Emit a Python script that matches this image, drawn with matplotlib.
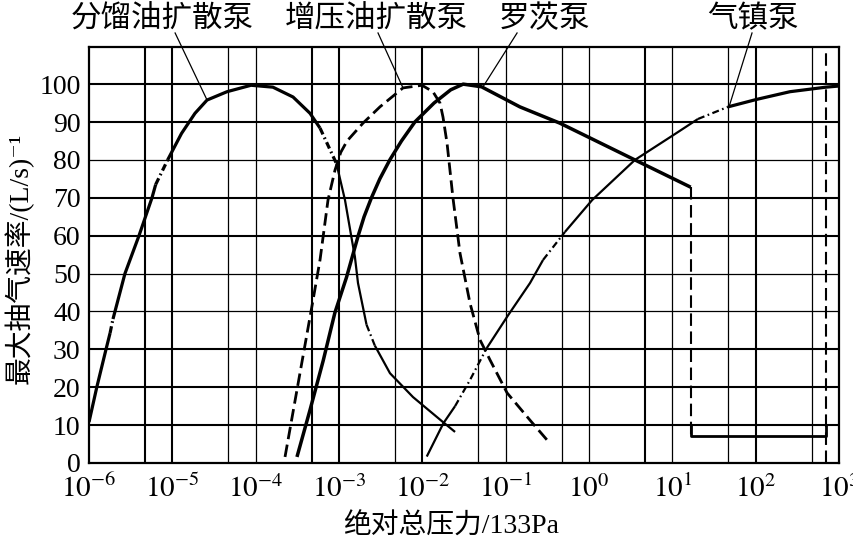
import numpy as np
import matplotlib
matplotlib.use('Agg')
import matplotlib.pyplot as plt

plt.rcParams['font.family'] = ['Liberation Serif', 'Noto Sans CJK SC', 'DejaVu Serif']
plt.rcParams['mathtext.fontset'] = 'stix'
plt.rcParams['lines.scale_dashes'] = False

# 分馏油扩散泵
frac_p = [1.0e-6, 1.24e-6, 1.60e-6, 1.79e-6, 1.94e-6, 2.05e-6, 2.70e-6, 3.98e-6, 5.70e-6, 6.31e-6,
          8.79e-6, 1.29e-5, 1.87e-5, 2.61e-5, 4.53e-5, 8.79e-5, 1.61e-4, 2.81e-4, 4.49e-4, 5.92e-4,
          9.33e-4, 1.18e-3, 1.43e-3, 1.55e-3, 1.69e-3, 2.14e-3, 2.69e-3, 4.09e-3, 7.73e-3, 1.77e-2,
          2.47e-2]
frac_s = [10.8, 20, 30, 34.3, 38, 40, 50, 60, 70, 73.5,
          80, 87, 92.3, 95.8, 98, 99.7, 99.2, 96.6, 92.3, 88.4,
          79, 69.4, 58.8, 54.5, 47.5, 36.5, 31, 23.7, 17.4, 10.8,
          8.2]
frac_codes = "SSSDSSSSSDSSSSSSSSSDsssssdssss"

# 增压油扩散泵
boost_p = [2.25e-4, 3.40e-4, 4.88e-4, 5.92e-4, 7.38e-4, 8.95e-4, 1.05e-3, 1.25e-3, 1.94e-3, 3.10e-3,
           5.86e-3, 9.91e-3, 1.34e-2, 1.63e-2, 1.77e-2, 1.98e-2, 2.33e-2, 2.83e-2, 3.73e-2, 4.92e-2,
           6.49e-2, 0.104, 0.196, 0.313]
boost_s = [1.6, 23.7, 43, 53.6, 69.4, 77.3, 82, 85, 89.7, 94,
           99, 99.7, 98, 95, 91.3, 84.4, 70, 55.4, 42.2, 32.5,
           27.2, 18.5, 11.3, 6.1]

# 罗茨泵
roots_p = [3.13e-4, 4.49e-4, 6.46e-4, 8.91e-4, 1.23e-3, 1.70e-3, 2.00e-3, 2.45e-3, 3.09e-3, 4.07e-3,
           5.62e-3, 8.13e-3, 1.38e-2, 2.19e-2, 3.09e-2, 5.13e-2, 0.148, 0.447, 3.55, 16.6]
roots_s = [1.6, 14, 27, 39.6, 49, 60, 65, 70, 75, 80,
           85, 90, 95, 98.5, 100, 99.3, 94, 89.7, 80, 72.8]
roots_drop_s = [72.8, 7.2]
roots_box_p = [16.6, 16.6, 692, 692]
roots_box_s = [10, 7.2, 7.2, 10]

# 气镇泵
ballast_p = [1.13e-2, 1.79e-2, 2.47e-2, 3.73e-2, 5.92e-2, 0.107, 0.196, 0.281, 0.515, 1.09,
             3.56, 10.2, 20.3, 46.6, 104, 258, 698, 1000]
ballast_s = [1.7, 10.5, 15, 21.9, 30.3, 39, 47.5, 53.6, 61, 69.4,
             80, 86.5, 90.8, 94, 96, 98, 99.2, 99.5]
ballast_codes = "ssddsssdssssdSSSS"

# 标注
labels = ['分馏油扩散泵', '增压油扩散泵', '罗茨泵', '气镇泵']
label_p = [7.52e-6, 2.78e-3, 0.296, 92.9]
lead_from_p = [1.08e-5, 2.94e-3, 0.137, 90.4]
lead_to_p = [2.61e-5, 5.86e-3, 5.35e-2, 47.9]
lead_to_s = [95.8, 99, 99.3, 94]

grid_s = [10, 20, 30, 40, 50, 60, 70, 80, 90, 100]
grid_s_thick = [1, 1, 1, 0, 0, 1, 1, 0, 1, 1]
grid_p = [4.7e-6, 1e-5, 4.7e-5, 1e-4, 4.7e-4, 1e-3, 4.7e-3, 1e-2, 4.7e-2, 1e-1,
          4.7e-1, 1e0, 4.7e0, 1e1, 4.7e1, 1e2, 4.7e2]
grid_p_thick = [1, 1, 0, 0, 1, 1, 0, 1, 0, 0, 0, 0, 1, 0, 0, 1, 0]

xtick_exp = [-6, -5, -4, -3, -2, -1, 0, 1, 2, 3]

DASHDOT = (0, (5, 2.5, 1.2, 2.5))
STYLES = {'S': ('-', 2.3), 's': ('-', 1.6), 'D': (DASHDOT, 2.3), 'd': (DASHDOT, 1.6)}


def draw_curve(ax, x, y, codes):
    # 按线型代码分段画
    start = 0
    for i in range(1, len(codes) + 1):
        if i == len(codes) or codes[i] != codes[start]:
            ls, lw = STYLES[codes[start]]
            ax.plot(x[start:i + 1], y[start:i + 1], color='black', ls=ls, lw=lw,
                    solid_capstyle='butt', solid_joinstyle='round', zorder=3)
            start = i


fig = plt.figure(figsize=(8.54, 5.47), dpi=100)
ax = fig.add_axes([89 / 854, 84 / 547, 750 / 854, 416 / 547])
ax.set_xscale('log')
ax.set_xlim(1e-6, 1e3)
ax.set_ylim(0, 109.8)

# 网格
for v, t in zip(grid_s, grid_s_thick):
    ax.axhline(v, color='black', lw=1.5 if t else 0.9, zorder=1)
for v, t in zip(grid_p, grid_p_thick):
    ax.axvline(v, color='black', lw=1.5 if t else 0.9, zorder=1)

draw_curve(ax, frac_p, frac_s, frac_codes)
ax.plot(boost_p, boost_s, color='black', lw=2.0, ls=(0, (9, 4)), zorder=3)
ax.plot(roots_p, roots_s, color='black', lw=2.5, solid_capstyle='butt',
        solid_joinstyle='round', zorder=3)
ax.plot([roots_p[-1]] * 2, roots_drop_s, color='black', lw=1.5, ls=(0, (9, 4)), zorder=3)
ax.plot(roots_box_p, roots_box_s, color='black', lw=2.0, zorder=3)
ax.axvline(roots_box_p[-1], color='black', lw=1.5, ls=(0, (9, 4)), zorder=3)
draw_curve(ax, ballast_p, ballast_s, ballast_codes)

for lab, lp, fp, tp, ts in zip(labels, label_p, lead_from_p, lead_to_p, lead_to_s):
    ax.text(lp, 115.0, lab, ha='center', va='baseline', fontsize=22, clip_on=False)
    ax.plot([fp, tp], [113.5, ts], color='black', lw=0.9, clip_on=False, zorder=4)

ax.set_xticks([10.0 ** e for e in xtick_exp])
ax.set_xticklabels([r'$10^{%d}$' % e for e in xtick_exp])
ax.xaxis.set_minor_locator(matplotlib.ticker.NullLocator())
ax.set_yticks(range(0, 101, 10))
ax.tick_params(axis='x', length=0, pad=8.5, labelsize=21)
ax.tick_params(axis='y', length=0, pad=6, labelsize=20)
for sp in ax.spines.values():
    sp.set_linewidth(1.6)

fig.text(451 / 854, 1 - 527 / 547, '绝对总压力/133Pa', ha='center', va='center', fontsize=20)
fig.text(19 / 854, 1 - 258 / 547, '最大抽气速率/(L/s)⁻¹', ha='center', va='center',
         rotation=90, fontsize=20)

fig.savefig('out.png', dpi=100)
